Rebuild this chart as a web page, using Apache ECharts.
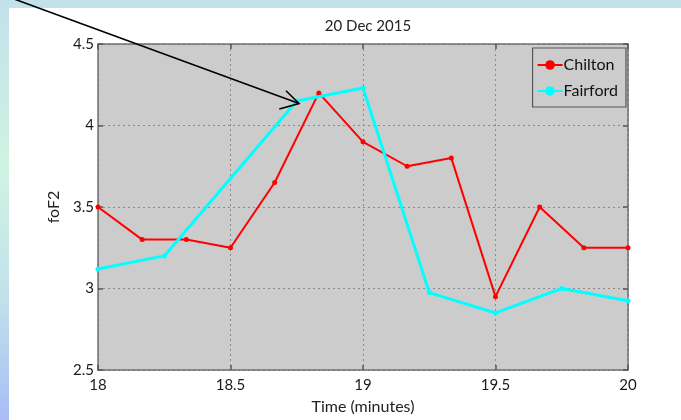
<!DOCTYPE html>
<html><head><meta charset="utf-8">
<script src="https://cdn.jsdelivr.net/npm/echarts@6/dist/echarts.min.js"></script>
<style>html,body{margin:0;padding:0;}#c{width:681px;height:420px;}</style>
</head><body><div id="c"></div>
<script>
const chiltonX = [18, 18.1667, 18.3333, 18.5, 18.6667, 18.8333, 19, 19.1667, 19.3333, 19.5, 19.6667, 19.8333, 20];
const chiltonY = [3.5, 3.3, 3.3, 3.25, 3.65, 4.2, 3.9, 3.75, 3.8, 2.95, 3.5, 3.25, 3.25];
const fairfordX = [18, 18.25, 18.75, 19, 19.25, 19.5, 19.75, 20];
const fairfordY = [3.12, 3.2, 4.15, 4.23, 2.975, 2.85, 3.0, 2.925];
const xTicks = [18, 18.5, 19, 19.5, 20];
const yTicks = [2.5, 3, 3.5, 4, 4.5];
const FONT = 'Lato';
const chart = echarts.init(document.getElementById('c'));
const axisCommon = {
  axisLine: {show: true, lineStyle: {color: '#707070', width: 1.5}},
  axisTick: {show: true, inside: true, length: 5, lineStyle: {color: '#555', width: 1.5}},
  splitLine: {show: false}
};
const fmt = v => String(v);
chart.setOption({
  animation: false,
  graphic: [
    {type: 'rect', z: -10, shape: {x: 0, y: 0, width: 681, height: 420},
     style: {fill: new echarts.graphic.LinearGradient(0, 0, 0, 1, [
       {offset: 0, color: '#c2e1ea'}, {offset: 0.4, color: '#cff3e2'}, {offset: 0.7, color: '#c2e2ea'}, {offset: 1, color: '#a9bcf6'}])}},
    {type: 'rect', z: -9, shape: {x: 9, y: 8, width: 672, height: 412}, style: {fill: '#ffffff'}},
    {type: 'polyline', z: 100, shape: {points: [[-5, -8], [299, 103.5]]}, style: {stroke: '#000', lineWidth: 1.6, fill: null}},
    {type: 'polyline', z: 100, shape: {points: [[286, 90.7], [299, 103.5], [279.3, 109]]}, style: {stroke: '#000', lineWidth: 1.6, fill: null}}
  ],
  title: {text: '20 Dec 2015', left: 363, top: 14, textAlign: 'center',
    textStyle: {fontFamily: FONT, fontSize: 15, fontWeight: 'normal', color: '#222'}},
  legend: {
    data: ['Chilton', 'Fairford'], orient: 'vertical', right: 55, top: 48,
    backgroundColor: '#cccccc', borderColor: '#555', borderWidth: 1.2,
    padding: [9, 8, 8, 4], itemGap: 10, itemWidth: 25, itemHeight: 12,
    textStyle: {fontFamily: FONT, fontSize: 16, color: '#111', padding: [0, 0, 0, -4]}
  },
  grid: {left: 98, right: 53, top: 44, bottom: 49, show: true, backgroundColor: '#cccccc', borderWidth: 0},
  xAxis: [
    Object.assign({}, axisCommon, {type: 'value', min: 18, max: 20, interval: 0.5, position: 'bottom',
      name: 'Time (minutes)', nameLocation: 'middle', nameGap: 29,
      nameTextStyle: {fontFamily: FONT, fontSize: 16, color: '#222'},
      axisLabel: {fontFamily: FONT, fontSize: 15, color: '#1a1a1a', margin: 8, formatter: fmt},
      splitLine: {show: true, lineStyle: {type: [2, 3], color: '#8a8a8a', width: 1}}}),
    Object.assign({}, axisCommon, {type: 'value', min: 18, max: 20, interval: 0.5, position: 'top', axisLabel: {show: false}})
  ],
  yAxis: [
    Object.assign({}, axisCommon, {type: 'value', min: 2.5, max: 4.5, interval: 0.5, position: 'left',
      name: 'foF2', nameLocation: 'middle', nameGap: 33, nameRotate: 90,
      nameTextStyle: {fontFamily: FONT, fontSize: 16, color: '#222'},
      axisLabel: {fontFamily: FONT, fontSize: 15, color: '#1a1a1a', margin: 4, formatter: fmt},
      splitLine: {show: true, lineStyle: {type: [2, 3], color: '#8a8a8a', width: 1}}}),
    Object.assign({}, axisCommon, {type: 'value', min: 2.5, max: 4.5, interval: 0.5, position: 'right', axisLabel: {show: false}})
  ],
  series: [
    {name: 'Chilton', type: 'line', data: chiltonX.map((x, i) => [x, chiltonY[i]]),
     color: '#ff0000', lineStyle: {width: 2, color: '#ff0000'}, symbol: 'circle', symbolSize: 5,
     itemStyle: {color: '#ff0000'}, z: 3},
    {name: 'Fairford', type: 'line', data: fairfordX.map((x, i) => [x, fairfordY[i]]),
     color: '#00ffff', lineStyle: {width: 3, color: '#00ffff'}, symbol: 'circle', symbolSize: 5,
     itemStyle: {color: '#00ffff'}, z: 4}
  ]
});
</script></body></html>
